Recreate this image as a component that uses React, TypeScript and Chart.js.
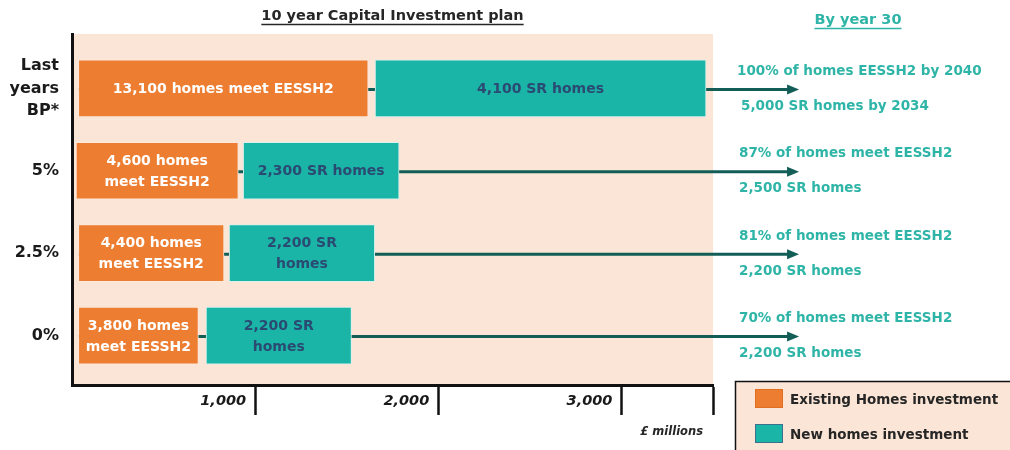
import React, { useEffect, useRef } from 'react';
import { Chart, registerables } from 'chart.js';

Chart.register(...registerables);

// ---------- data ----------
const rowLabels: (string | string[])[] = [['Last', 'years', 'BP*'], '5%', '2.5%', '0%'];
const existingStart = [35, 22, 35, 35];
const existingEnd = [1617, 908, 830, 690];
const newStart = [1655, 935, 858, 732];
const newEnd = [3462, 1786, 1653, 1526];
const existingText = [
  ['13,100 homes meet EESSH2'],
  ['4,600 homes', 'meet EESSH2'],
  ['4,400 homes', 'meet EESSH2'],
  ['3,800 homes', 'meet EESSH2'],
];
const newText = [['4,100 SR homes'], ['2,300 SR homes'], ['2,200 SR', 'homes'], ['2,200 SR', 'homes']];
const outcomeEESSH = [
  '100% of homes EESSH2 by 2040',
  '87% of homes meet EESSH2',
  '81% of homes meet EESSH2',
  '70% of homes meet EESSH2',
];
const outcomeSR = ['5,000 SR homes by 2034', '2,500 SR homes', '2,200 SR homes', '2,200 SR homes'];
const xTickValues = [1000, 2000, 3000, 3500];
const xMax = 3500;
const arrowTipValue = 3970;
const seriesNames = ['Existing Homes investment', 'New homes investment'];
const chartTitle = '10 year Capital Investment plan';
const rightTitle = 'By year 30';
const unitLabel = '£ millions';

// ---------- styles ----------
const FONT = '"DejaVu Sans", "Liberation Sans", sans-serif';
const PEACH = '#FBE5D6';
const ORANGE = '#ED7D31';
const TEAL = '#1BB5A8';
const ARROW = '#125E57';
const TEXT_TEAL = '#2EB5A7';
const TEXT_NAVY = '#2A4A72';
const DARK = '#262626';

const overlay = {
  id: 'overlay',
  beforeDraw(chart: any) {
    const { ctx, chartArea: a } = chart;
    ctx.save();
    ctx.fillStyle = PEACH;
    ctx.fillRect(a.left, a.top, a.right - a.left, a.bottom - a.top);
    ctx.restore();
  },
  beforeDatasetsDraw(chart: any) {
    const { ctx } = chart;
    const xs = chart.scales.x;
    const ys = chart.scales.y;
    ctx.save();
    rowLabels.forEach((_, i) => {
      const y = ys.getPixelForValue(i) + 1;
      const x0 = xs.getPixelForValue(existingStart[i]);
      const x1 = xs.getPixelForValue(arrowTipValue);
      ctx.strokeStyle = ARROW;
      ctx.lineWidth = 3;
      ctx.beginPath();
      ctx.moveTo(x0, y);
      ctx.lineTo(x1 - 8, y);
      ctx.stroke();
      ctx.fillStyle = ARROW;
      ctx.beginPath();
      ctx.moveTo(x1, y);
      ctx.lineTo(x1 - 12, y - 5);
      ctx.lineTo(x1 - 12, y + 5);
      ctx.closePath();
      ctx.fill();
    });
    ctx.restore();
  },
  afterDatasetsDraw(chart: any) {
    const { ctx, chartArea: a } = chart;
    const xs = chart.scales.x;
    const ys = chart.scales.y;
    ctx.save();
    // bar labels
    const drawLines = (lines: string[], cx: number, cy: number, color: string) => {
      ctx.fillStyle = color;
      ctx.font = `bold 14px ${FONT}`;
      ctx.textAlign = 'center';
      ctx.textBaseline = 'middle';
      const lh = 21;
      const top = cy - ((lines.length - 1) * lh) / 2;
      lines.forEach((t, k) => ctx.fillText(t, cx, top + k * lh));
    };
    const m0 = chart.getDatasetMeta(0);
    const m1 = chart.getDatasetMeta(1);
    rowLabels.forEach((_, i) => {
      const e0 = m0.data[i];
      const e1 = m1.data[i];
      drawLines(existingText[i], (e0.x + e0.base) / 2, e0.y + 1, '#FFFFFF');
      drawLines(newText[i], (e1.x + e1.base) / 2, e1.y + 1, TEXT_NAVY);
    });
    // outcome texts on the right
    ctx.font = `bold 13.5px ${FONT}`;
    ctx.fillStyle = TEXT_TEAL;
    ctx.textAlign = 'left';
    ctx.textBaseline = 'middle';
    rowLabels.forEach((_, i) => {
      const y = ys.getPixelForValue(i);
      const x = xs.getPixelForValue(arrowTipValue) - 60;
      ctx.fillText(outcomeEESSH[i], x - (i === 0 ? 2 : 0), y - 17);
      ctx.fillText(outcomeSR[i], x + (i === 0 ? 2 : 0), y + 18);
    });
    // titles with underline
    const underlined = (t: string, cx: number, cy: number, color: string, size: number) => {
      ctx.font = `bold ${size}px ${FONT}`;
      ctx.fillStyle = color;
      ctx.textAlign = 'center';
      ctx.textBaseline = 'middle';
      ctx.fillText(t, cx, cy);
      const w = ctx.measureText(t).width;
      ctx.strokeStyle = color;
      ctx.lineWidth = 1.3;
      ctx.beginPath();
      ctx.moveTo(cx - w / 2, cy + 8);
      ctx.lineTo(cx + w / 2, cy + 8);
      ctx.stroke();
    };
    underlined(chartTitle, (a.left + a.right) / 2, 16.5, DARK, 14.5);
    underlined(rightTitle, 858, 20.5, TEXT_TEAL, 14.5);
    // unit label
    ctx.font = `italic bold 11.5px ${FONT}`;
    ctx.fillStyle = DARK;
    ctx.textAlign = 'right';
    ctx.textBaseline = 'middle';
    ctx.fillText(unitLabel, a.right - 10, 432);
    // legend
    ctx.fillStyle = PEACH;
    ctx.fillRect(735, 381, 300, 100);
    ctx.strokeStyle = '#111';
    ctx.lineWidth = 1.5;
    ctx.strokeRect(735.5, 381.5, 300, 100);
    const swatchBorders = ['#E0701F', '#3D6F8E'];
    chart.data.datasets.forEach((ds: any, k: number) => {
      const sy = k === 0 ? 389 : 424;
      ctx.fillStyle = ds.backgroundColor;
      ctx.fillRect(755, sy, 28, 19);
      ctx.strokeStyle = swatchBorders[k];
      ctx.lineWidth = 1;
      ctx.strokeRect(755.5, sy + 0.5, 27, 18);
      ctx.font = `bold 13.5px ${FONT}`;
      ctx.fillStyle = DARK;
      ctx.textAlign = 'left';
      ctx.textBaseline = 'middle';
      ctx.fillText(ds.label, 790, sy + 11);
    });
    ctx.restore();
  },
};

export default function App() {
  const ref = useRef<HTMLCanvasElement>(null);
  useEffect(() => {
    if (!ref.current) return;
    const chart = new Chart(ref.current, {
      type: 'bar',
      data: {
        datasets: [
          {
            label: seriesNames[0],
            data: rowLabels.map((_, i) => ({ x: [existingStart[i], existingEnd[i]], y: i })) as any,
            backgroundColor: ORANGE,
            borderColor: '#FCE9DC',
            borderWidth: 1,
            borderSkipped: false,
            grouped: false,
            barThickness: 57,
          } as any,
          {
            label: seriesNames[1],
            data: rowLabels.map((_, i) => ({ x: [newStart[i], newEnd[i]], y: i })) as any,
            backgroundColor: TEAL,
            borderColor: '#D9F0EC',
            borderWidth: 1,
            borderSkipped: false,
            grouped: false,
            barThickness: 57,
          } as any,
        ],
      },
      options: {
        indexAxis: 'y',
        responsive: false,
        animation: false,
        layout: { padding: { top: 34, right: 297, left: 0, bottom: 0 } },
        plugins: {
          legend: { display: false },
          tooltip: { enabled: false },
          title: { display: false },
        },
        scales: {
          x: {
            type: 'linear',
            min: 0,
            max: xMax,
            offset: false,
            afterBuildTicks: (s: any) => {
              s.ticks = xTickValues.map((v) => ({ value: v }));
            },
            afterFit: (s: any) => {
              s.height = 65;
            },
            grid: {
              drawOnChartArea: false,
              drawTicks: true,
              tickLength: 30,
              tickWidth: 2.5,
              tickColor: '#111',
            },
            border: { color: '#111', width: 3 },
            ticks: {
              align: 'end',
              labelOffset: -9,
              padding: -22,
              color: '#1a1a1a',
              autoSkip: false,
              maxRotation: 0,
              font: { family: FONT, size: 14.5, weight: 'bold', style: 'italic' },
              callback: (v: any) => (Number(v) >= xMax ? '' : Number(v).toLocaleString('en-GB')),
            },
          },
          y: {
            type: 'linear',
            reverse: true,
            offset: false,
            min: -0.66,
            max: 3.6,
            afterBuildTicks: (s: any) => {
              s.ticks = rowLabels.map((_, i) => ({ value: i }));
            },
            afterFit: (s: any) => {
              s.width = 72;
            },
            grid: { display: true, offset: false, drawOnChartArea: false, drawTicks: false, color: 'rgba(0,0,0,0)' },
            border: { color: '#111', width: 3 },
            ticks: {
              padding: 13,
              color: '#1a1a1a',
              autoSkip: false,
              font: { family: FONT, size: 16, weight: 'bold', lineHeight: 1.4 },
              callback: (v: any) => rowLabels[Number(v)] as any,
            },
          },
        },
      } as any,
      plugins: [overlay],
    });
    return () => chart.destroy();
  }, []);
  return (
    <div style={{ position: 'absolute', left: 0, top: 0, width: 1010, height: 450, background: '#fff' }}>
      <canvas ref={ref} width={1010} height={450} style={{ display: 'block', width: 1010, height: 450 }} />
    </div>
  );
}
